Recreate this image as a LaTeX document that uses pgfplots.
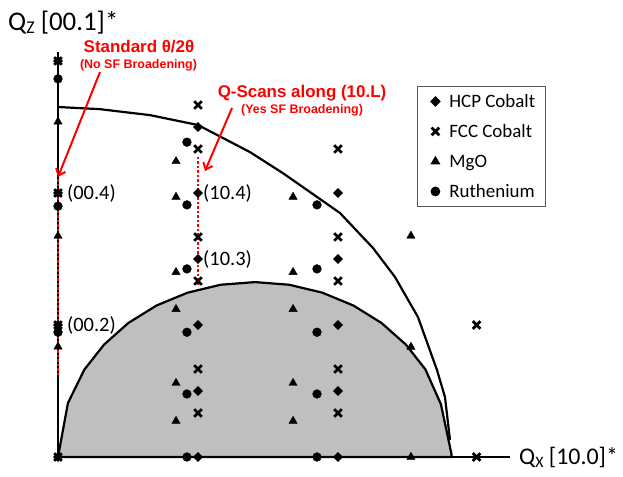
\documentclass[border=0pt]{standalone}
\usepackage{pgfplots}
\pgfplotsset{compat=1.18}
\usepackage{fontspec}
\setmainfont{Carlito}
\newfontfamily\lsans{Liberation Sans}
\usetikzlibrary{arrows.meta}
\begin{document}
\begin{tikzpicture}
\begin{axis}[
  scale only axis, width=452bp, height=405bp,
  xmin=0, xmax=3.2286, ymin=0, ymax=6.1364,
  axis x line=bottom, axis y line=left,
  axis line style={-, line width=1.1bp, black},
  xtick=\empty, ytick=\empty, clip=false,
  legend cell align=left,
  legend style={at={(axis cs:2.564,5.621)}, anchor=north west,
    draw=black!65, line width=0.9bp, inner xsep=10bp, inner ysep=6bp,
    row sep=12bp, column sep=8bp,
    font=\fontsize{19}{22}\selectfont,
    nodes={inner sep=0pt, text height=15bp, text depth=3bp}},
  legend image code/.code={\path[draw=none, fill=none] (-8bp,-5bp) rectangle (6bp,5bp);
    \path[#1, only marks] plot coordinates {(0bp,0bp)};},
]
% inaccessible region (inner)
\addplot[fill=black!25, draw=black, line width=2.2bp, forget plot] coordinates {
(0,0) (0.071,0.818) (0.1885,1.325) (0.329,1.703) (0.502,2.03) (0.7035,2.295) (0.926,2.49)
(1.162,2.61) (1.407,2.65) (1.651,2.61) (1.888,2.49) (2.11,2.295) (2.311,2.03) (2.485,1.703)
(2.625,1.325) (2.735,0.80) (2.81,0.05) (2.81,0)} \closedcycle;
% outer limiting curve
\addplot[black, line width=2.2bp, forget plot] coordinates {
(0,5.303) (0.3,5.27) (0.657,5.18) (1.0,5.03) (1.371,4.62) (1.607,4.30) (2.014,3.697)
(2.25,3.167) (2.407,2.727) (2.571,2.121) (2.707,1.318) (2.764,0.909) (2.8,0.258)};
% HCP Cobalt
\addplot[only marks, mark=square*, mark size=3.3bp, mark options={rotate=45, fill=black, draw=black}] coordinates {
(0,0) (0,2) (0,4) (0,6)
(1,0) (1,1) (1,2) (1,3) (1,4) (1,5)
(2,0) (2,1) (2,2) (2,3) (2,4)};
\addlegendentry{HCP Cobalt}
% FCC Cobalt
\addplot[only marks, mark=x, mark size=5.4bp, mark options={line width=2.7bp, black}] coordinates {
(0,0) (0,2) (0,4) (0,6)
(1,0.667) (1,1.333) (1,2.667) (1,3.333) (1,4.667) (1,5.333)
(2,0.667) (2,1.333) (2,2.667) (2,3.333) (2,4.667)
(2.99,0) (2.99,2.0)};
\addlegendentry{FCC Cobalt}
% MgO
\addplot[only marks, mark=triangle*, mark size=4.8bp, mark options={fill=black, draw=black}] coordinates {
(0,1.67) (0,3.35) (0,5.08)
(0.843,0.545) (0.843,1.12) (0.843,2.24) (0.843,2.80) (0.843,3.94) (0.843,4.48)
(1.679,0.545) (1.679,1.12) (1.679,2.24) (1.679,2.80) (1.679,3.94)
(2.521,0) (2.521,1.667) (2.521,3.35)};
\addlegendentry{MgO}
% Ruthenium
\addplot[only marks, mark=*, mark size=4.4bp, mark options={fill=black, draw=black}] coordinates {
(0,1.89) (0,3.80) (0,5.73)
(0.921,0) (0.921,0.955) (0.921,1.89) (0.921,2.85) (0.921,3.82) (0.921,4.77)
(1.85,0) (1.85,0.955) (1.85,1.89) (1.85,2.85) (1.85,3.82)};
\addlegendentry{Ruthenium}
% red scan lines
\addplot[red, line width=2.6bp, dash pattern=on 2.5bp off 2bp, forget plot] coordinates {(0,1.242) (0,4.24)};
\addplot[red, line width=2.6bp, dash pattern=on 2.5bp off 2bp, forget plot] coordinates {(1,2.606) (1,4.545)};
% arrows
\draw[red, line width=2bp, -{Straight Barb[length=6bp,width=10bp]}] (axis cs:0.3,5.833) -- (axis cs:0,4.242);
\draw[red, line width=2bp, -{Straight Barb[length=6bp,width=10bp]}] (axis cs:1.243,5.288) -- (axis cs:1.05,4.333);
% red texts
\node[red, inner sep=0pt, font=\lsans\bfseries\fontsize{17}{18}\selectfont] at (axis cs:0.5786,6.212) {Standard θ/2θ};
\node[red, inner sep=0pt, font=\lsans\bfseries\fontsize{12.5}{14}\selectfont] at (axis cs:0.575,5.939) {(No SF Broadening)};
\node[red, inner sep=0pt, font=\lsans\bfseries\fontsize{17}{18}\selectfont] at (axis cs:1.743,5.515) {Q-Scans along (10.L)};
\node[red, inner sep=0pt, font=\lsans\bfseries\fontsize{12.5}{14}\selectfont] at (axis cs:1.743,5.258) {(Yes SF Broadening)};
% reflection labels
\node[anchor=west, inner sep=0pt, font=\fontsize{20.5}{24}\selectfont] at (axis cs:0.064,4.0) {(00.4)};
\node[anchor=west, inner sep=0pt, font=\fontsize{20.5}{24}\selectfont] at (axis cs:0.064,2.0) {(00.2)};
\node[anchor=west, inner sep=0pt, font=\fontsize{20.5}{24}\selectfont] at (axis cs:1.036,4.0) {(10.4)};
\node[anchor=west, inner sep=0pt, font=\fontsize{20.5}{24}\selectfont] at (axis cs:1.036,3.0) {(10.3)};
% axis labels
\node[anchor=base west, inner sep=0pt, font=\fontsize{27}{32}\selectfont] at (axis cs:-0.357,6.455) {Q\raisebox{-2.6bp}{\fontsize{18}{18}\selectfont Z} [00.1]*};
\node[anchor=base west, inner sep=0pt, font=\fontsize{24}{28}\selectfont] at (axis cs:3.293,-0.121) {Q\raisebox{-2.4bp}{\fontsize{16}{16}\selectfont X} [10.0]*};
\coordinate (bbA) at (axis cs:-0.41429,-0.30303);
\coordinate (bbB) at (axis cs:4.03571,6.92424);
\end{axis}
\pgfresetboundingbox
\path[use as bounding box] (bbA) rectangle (bbB);
\end{tikzpicture}
\end{document}
